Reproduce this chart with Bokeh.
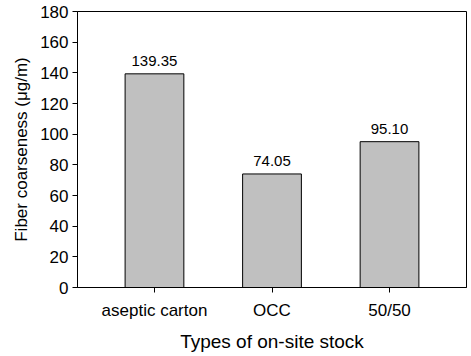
from bokeh.plotting import figure
from bokeh.models import ColumnDataSource, FixedTicker, Range1d, LabelSet, Title
from bokeh.core.properties import value
from bokeh.embed import file_html
from bokeh.resources import INLINE

categories = ["aseptic carton", "OCC", "50/50"]
values = [139.35, 74.05, 95.10]
value_labels = ["139.35", "74.05", "95.10"]
positions = [1, 2, 3]

src = ColumnDataSource(dict(x=positions, top=values, lab=value_labels))

p = figure(width=471, height=356, output_backend="svg", toolbar_location=None,
           x_range=Range1d(0.345, 3.655), y_range=Range1d(0, 180),
           min_border_left=77, min_border_right=5, min_border_top=11, min_border_bottom=69)

p.vbar(x="x", top="top", width=0.5, source=src, fill_color="#c0c0c0",
       line_color="black", line_width=1)

p.add_layout(LabelSet(x="x", y="top", text="lab", source=src, text_align="center",
                      text_baseline="bottom", y_offset=8, text_font=value("Liberation Sans"),
                      text_font_size="15px", text_color="black"))

# y-axis title, slightly above the frame centre as in the reference
p.add_layout(Title(text="Fiber coarseness (\u03bcg/m)", align="center", offset=14,
                   text_font="Liberation Sans", text_font_size="17px",
                   text_font_style="normal", text_color="black", standoff=14), "left")

p.xgrid.visible = False
p.ygrid.visible = False
p.outline_line_color = "black"
p.outline_line_alpha = 1

p.xaxis.ticker = FixedTicker(ticks=positions)
p.xaxis.major_label_overrides = {pos: c for pos, c in zip(positions, categories)}
p.yaxis.ticker = FixedTicker(ticks=list(range(0, 181, 20)))

for ax in (p.xaxis[0], p.yaxis[0]):
    ax.axis_line_color = "black"
    ax.major_tick_line_color = "black"
    ax.major_tick_in = 0
    ax.major_tick_out = 5
    ax.minor_tick_line_color = None
    ax.major_label_text_font = "Liberation Sans"
    ax.major_label_text_color = "black"
    ax.axis_label_text_font = "Liberation Sans"
    ax.axis_label_text_font_style = "normal"
    ax.axis_label_text_color = "black"

p.xaxis.axis_label_text_font_size = "19px"
p.xaxis.major_label_text_font_size = "17px"
p.yaxis.major_label_text_font_size = "17px"
p.xaxis.major_label_standoff = 8
p.yaxis.major_label_standoff = 4
p.xaxis.axis_label = "Types of on-site stock"
p.xaxis.axis_label_standoff = 8

open("out.html", "w").write(file_html(p, INLINE))
